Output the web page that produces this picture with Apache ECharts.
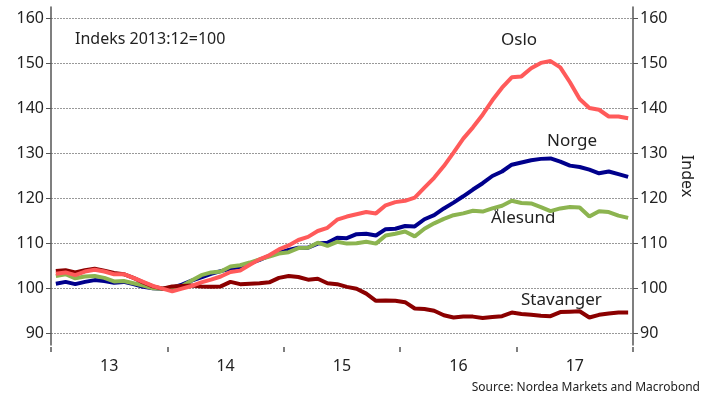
<!DOCTYPE html>
<html>
<head>
<meta charset="utf-8">
<script src="https://cdn.jsdelivr.net/npm/echarts@6/dist/echarts.min.js"></script>
<style>
  html, body { margin: 0; padding: 0; background: #fff; }
  #chart { width: 703px; height: 401px; }
</style>
</head>
<body>
<div id="chart"></div>
<script>
// monthly index, 2013:12 = 100 (Jan 2013 .. Dec 2017)
const years = ['13', '14', '15', '16', '17'];

const oslo = [
  103.3, 103.6, 103.0, 103.8, 104.2, 103.8, 103.2, 103.2, 102.4, 101.5, 100.6, 100.0,
  99.4, 100.0, 100.6, 101.4, 102.0, 102.7, 103.7, 104.0, 105.3, 106.5, 107.4, 108.7,
  109.6, 110.8, 111.5, 112.8, 113.5, 115.3, 116.0, 116.5, 117.0, 116.7, 118.5, 119.2,
  119.5, 120.2, 122.4, 124.6, 127.2, 130.2, 133.3, 135.8, 138.6, 141.8, 144.6, 146.9,
  147.1, 148.9, 150.1, 150.5, 149.1, 145.8, 142.1, 140.1, 139.7, 138.2, 138.2, 137.8
];

const norge = [
  101.1, 101.5, 101.0, 101.5, 101.9, 101.7, 101.3, 101.5, 101.0, 100.4, 100.1, 100.0,
  100.2, 100.9, 101.8, 102.5, 103.3, 103.9, 104.4, 104.8, 105.6, 106.4, 107.3, 108.0,
  108.6, 109.1, 109.1, 110.0, 110.2, 111.3, 111.2, 112.1, 112.2, 111.8, 113.2, 113.3,
  113.9, 113.8, 115.4, 116.3, 117.8, 119.1, 120.5, 122.0, 123.4, 125.0, 126.0, 127.5,
  128.0, 128.5, 128.8, 128.9, 128.2, 127.3, 127.0, 126.4, 125.6, 126.0, 125.4, 124.8
];

const alesund = [
  102.8, 103.2, 102.3, 102.7, 102.8, 102.4, 101.6, 101.7, 101.2, 100.7, 100.1, 100.0,
  100.3, 100.6, 101.8, 103.0, 103.6, 103.8, 104.9, 105.2, 105.8, 106.5, 107.1, 107.8,
  108.1, 109.0, 109.1, 110.2, 109.5, 110.4, 110.0, 110.1, 110.4, 110.0, 111.8, 112.2,
  112.7, 111.6, 113.3, 114.5, 115.5, 116.3, 116.7, 117.3, 117.1, 117.8, 118.4, 119.5,
  119.0, 118.9, 118.1, 117.2, 117.8, 118.1, 118.0, 116.0, 117.2, 117.0, 116.2, 115.7
];

const stavanger = [
  103.9, 104.1, 103.6, 104.1, 104.4, 104.0, 103.5, 103.2, 102.4, 101.4, 100.5, 100.0,
  100.5, 100.6, 100.7, 100.5, 100.4, 100.5, 101.5, 101.0, 101.1, 101.2, 101.4, 102.4,
  102.8, 102.6, 102.0, 102.2, 101.2, 101.0, 100.4, 100.0, 98.9, 97.3, 97.4, 97.3,
  97.0, 95.6, 95.5, 95.1, 94.1, 93.6, 93.8, 93.8, 93.5, 93.7, 93.9, 94.7,
  94.4, 94.2, 94.0, 93.9, 94.8, 94.9, 95.0, 93.6, 94.2, 94.5, 94.7, 94.7
];

const yTicks = [90, 100, 110, 120, 130, 140, 150, 160];
const yearTicks = [0, 12, 24, 36, 48, 60];
const yearLabelPos = [6, 18, 30, 42, 54];

const FONT = '"Noto Sans", "Open Sans", sans-serif';
const axisColor = '#555';

// month i is drawn in the middle of its slot
const toPoints = (arr) => arr.map((v, i) => [i + 0.5, v]);

const chart = echarts.init(document.getElementById('chart'), null, { renderer: 'canvas' });

const yAxisBase = {
  type: 'value',
  min: 87.5,
  max: 162.5,
  axisLine: { show: true, lineStyle: { color: axisColor, width: 1.5 } },
  axisTick: { show: true, length: 5, customValues: yTicks, lineStyle: { color: axisColor } },
  axisLabel: { customValues: yTicks, color: '#222', fontSize: 16, fontFamily: FONT, margin: 7 },
  splitLine: { show: false },
};

const lineSeries = (name, data, color) => ({
  name,
  type: 'line',
  data: toPoints(data),
  showSymbol: false,
  smooth: false,
  lineStyle: { color, width: 4 },
  itemStyle: { color },
  emphasis: { disabled: true },
});

const option = {
  animation: false,
  backgroundColor: '#fff',
  grid: { left: 51, right: 62, top: 7, bottom: 56 },
  xAxis: {
    type: 'value',
    min: 0,
    max: 60,
    offset: 2,
    axisLine: { show: false },
    axisTick: { show: true, length: 5, customValues: yearTicks, lineStyle: { color: axisColor, width: 1.5 } },
    axisLabel: {
      customValues: yearLabelPos,
      formatter: (v) => years[(v - 6) / 12],
      color: '#222',
      fontSize: 16,
      fontFamily: FONT,
      margin: 11,
    },
    splitLine: { show: false },
  },
  yAxis: [
    Object.assign({}, yAxisBase, { position: 'left' }),
    Object.assign({}, yAxisBase, {
      position: 'right',
      name: 'Index',
      nameLocation: 'middle',
      nameRotate: -90,
      nameGap: 46,
      nameTextStyle: { color: '#222', fontSize: 16, fontFamily: FONT },
    }),
  ],
  series: [
    lineSeries('Norge', norge, '#00008c'),
    lineSeries('Ålesund', alesund, '#8cb450'),
    lineSeries('Stavanger', stavanger, '#8b0000'),
    Object.assign(lineSeries('Oslo', oslo, '#ff5a5a'), {
      // dotted horizontal grid lines
      markLine: {
        silent: true,
        symbol: 'none',
        label: { show: false },
        lineStyle: { color: '#999', type: [2, 1], width: 1 },
        data: yTicks.map((v) => ({ yAxis: v })),
        z: 0,
      },
    }),
  ],
  graphic: [
    { type: 'text', left: 75, top: 31, style: { text: 'Indeks 2013:12=100', font: '16px ' + FONT, fill: '#222' } },
    { type: 'text', left: 501, top: 32, style: { text: 'Oslo', font: '17px ' + FONT, fill: '#222' } },
    { type: 'text', left: 547, top: 133, style: { text: 'Norge', font: '17px ' + FONT, fill: '#222' } },
    { type: 'text', left: 491, top: 210, style: { text: 'Ålesund', font: '17px ' + FONT, fill: '#222' } },
    { type: 'text', left: 521, top: 292, style: { text: 'Stavanger', font: '17px ' + FONT, fill: '#222' } },
    { type: 'text', right: 3, top: 382, style: { text: 'Source: Nordea Markets and Macrobond', font: '12px ' + FONT, fill: '#222' } },
  ],
};

chart.setOption(option);
</script>
</body>
</html>
